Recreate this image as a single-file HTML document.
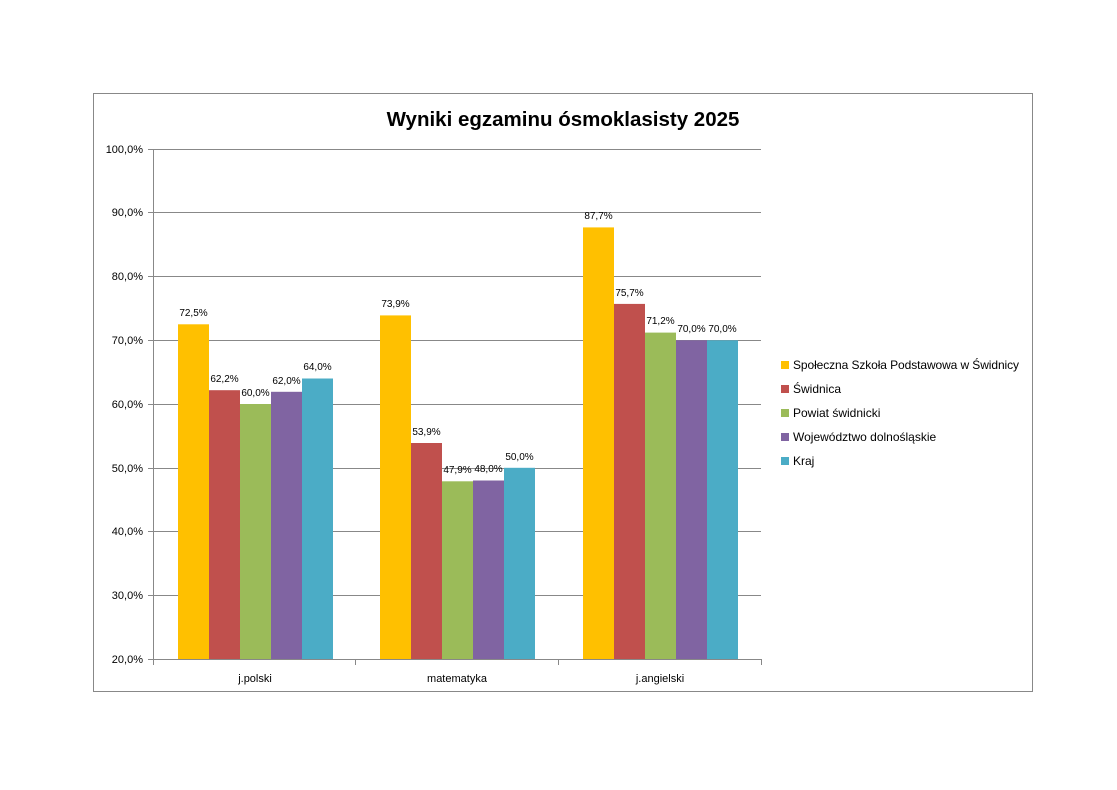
<!DOCTYPE html>
<html><head><meta charset="utf-8"><style>
html,body{margin:0;padding:0;background:#fff;}
svg{display:block;font-family:"Liberation Sans",sans-serif;}
</style></head><body>
<svg width="1117" height="790" viewBox="0 0 1117 790" xmlns="http://www.w3.org/2000/svg">
<rect x="93.5" y="93.5" width="939" height="598" fill="#fff" stroke="#888" stroke-width="1"/>
<text x="563" y="126" text-anchor="middle" font-size="20.5" font-weight="bold" fill="#000">Wyniki egzaminu  ósmoklasisty 2025</text>
<g stroke="#888" stroke-width="1">
<line x1="148" y1="149.5" x2="761" y2="149.5"/>
<line x1="148" y1="212.5" x2="761" y2="212.5"/>
<line x1="148" y1="276.5" x2="761" y2="276.5"/>
<line x1="148" y1="340.5" x2="761" y2="340.5"/>
<line x1="148" y1="404.5" x2="761" y2="404.5"/>
<line x1="148" y1="468.5" x2="761" y2="468.5"/>
<line x1="148" y1="531.5" x2="761" y2="531.5"/>
<line x1="148" y1="595.5" x2="761" y2="595.5"/>
<line x1="148" y1="659.5" x2="761" y2="659.5"/>
<line x1="153.5" y1="149" x2="153.5" y2="659"/>
<line x1="355.5" y1="659" x2="355.5" y2="665"/>
<line x1="558.5" y1="659" x2="558.5" y2="665"/>
<line x1="761.5" y1="659" x2="761.5" y2="665"/>
<line x1="153.5" y1="659" x2="153.5" y2="665"/>
</g>
<g font-size="11" text-anchor="end" fill="#000">
<text x="143" y="153">100,0%</text>
<text x="143" y="216">90,0%</text>
<text x="143" y="280">80,0%</text>
<text x="143" y="344">70,0%</text>
<text x="143" y="408">60,0%</text>
<text x="143" y="472">50,0%</text>
<text x="143" y="535">40,0%</text>
<text x="143" y="599">30,0%</text>
<text x="143" y="663">20,0%</text>
</g>
<g font-size="11" text-anchor="middle" fill="#000">
<text x="255" y="682">j.polski</text>
<text x="457" y="682">matematyka</text>
<text x="660" y="682">j.angielski</text>
</g>
<g>
<rect x="178" y="324.3" width="31" height="334.7" fill="#FFC000"/>
<rect x="209" y="390.2" width="31" height="268.8" fill="#C0504D"/>
<rect x="240" y="404" width="31" height="255" fill="#9BBB59"/>
<rect x="271" y="391.8" width="31" height="267.2" fill="#8064A2"/>
<rect x="302" y="378.5" width="31" height="280.5" fill="#4BACC6"/>

<rect x="380" y="315.4" width="31" height="343.6" fill="#FFC000"/>
<rect x="411" y="443" width="31" height="216" fill="#C0504D"/>
<rect x="442" y="481.3" width="31" height="177.7" fill="#9BBB59"/>
<rect x="473" y="480.5" width="31" height="178.5" fill="#8064A2"/>
<rect x="504" y="467.8" width="31" height="191.2" fill="#4BACC6"/>

<rect x="583" y="227.4" width="31" height="431.6" fill="#FFC000"/>
<rect x="614" y="303.9" width="31" height="355.1" fill="#C0504D"/>
<rect x="645" y="332.6" width="31" height="326.4" fill="#9BBB59"/>
<rect x="676" y="340.3" width="31" height="318.7" fill="#8064A2"/>
<rect x="707" y="340.3" width="31" height="318.7" fill="#4BACC6"/>
</g>
<g font-size="10" text-anchor="middle" fill="#000">
<text x="193.5" y="316">72,5%</text>
<text x="224.5" y="382">62,2%</text>
<text x="255.5" y="396">60,0%</text>
<text x="286.5" y="384">62,0%</text>
<text x="317.5" y="370">64,0%</text>
<text x="395.5" y="307">73,9%</text>
<text x="426.5" y="435">53,9%</text>
<text x="457.5" y="473">47,9%</text>
<text x="488.5" y="472">48,0%</text>
<text x="519.5" y="460">50,0%</text>
<text x="598.5" y="219">87,7%</text>
<text x="629.5" y="296">75,7%</text>
<text x="660.5" y="324">71,2%</text>
<text x="691.5" y="332">70,0%</text>
<text x="722.5" y="332">70,0%</text>
</g>
<g font-size="12" fill="#000">
<rect x="781" y="361" width="8" height="8" fill="#FFC000"/><text x="793" y="369" textLength="226">Społeczna Szkoła Podstawowa w Świdnicy</text>
<rect x="781" y="385" width="8" height="8" fill="#C0504D"/><text x="793" y="393">Świdnica</text>
<rect x="781" y="409" width="8" height="8" fill="#9BBB59"/><text x="793" y="417">Powiat świdnicki</text>
<rect x="781" y="433" width="8" height="8" fill="#8064A2"/><text x="793" y="441">Województwo dolnośląskie</text>
<rect x="781" y="457" width="8" height="8" fill="#4BACC6"/><text x="793" y="465">Kraj</text>
</g>
</svg>
</body></html>
